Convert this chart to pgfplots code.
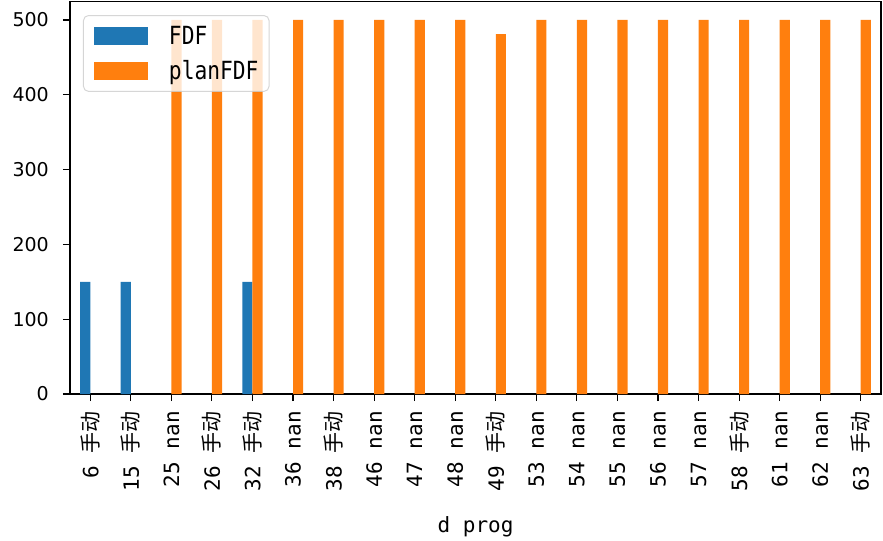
\documentclass[border=0pt]{standalone}
\usepackage{pgfplots}
\pgfplotsset{compat=1.18}
\usepackage{fontspec}
\setmainfont{DejaVu Sans}
\newfontfamily\cjkf{Noto Sans CJK SC}
\newcommand{\cjk}[1]{{\cjkf\fontsize{21bp}{25bp}\selectfont #1}}
\newfontfamily\mono{DejaVu Sans Mono}
\newfontfamily\legfont[FakeStretch=0.85]{DejaVu Sans Mono}
\definecolor{tabblue}{HTML}{1F77B4}
\definecolor{taborange}{HTML}{FF7F0E}
\pgfplotsset{
  mylegimg/.style={legend image code/.code={\fill[##1, fill opacity=1, draw=none, sharp corners] (0bp,-9bp) rectangle (54bp,9bp);}},
}
\begin{document}
\begin{tikzpicture}
\begin{axis}[
  at={(0,0)}, anchor=south west,
  scale only axis,
  width=811bp, height=392.7bp,
  xmin=-0.5, xmax=19.5,
  ymin=0, ymax=525,
  axis line style={line width=1.3bp},
  tick style={line width=1.1bp, black},
  major tick length=7bp,
  tick align=outside,
  xtick pos=bottom, ytick pos=left,
  xtick={0,...,19},
  xticklabels={{6 \cjk{手动}},{15 \cjk{手动}},{25 nan},{26 \cjk{手动}},{32 \cjk{手动}},{36 nan},{38 \cjk{手动}},{46 nan},{47 nan},{48 nan},{49 \cjk{手动}},{53 nan},{54 nan},{55 nan},{56 nan},{57 nan},{58 \cjk{手动}},{61 nan},{62 nan},{63 \cjk{手动}}},
  xticklabel style={rotate=90, anchor=east, font=\mono\fontsize{21bp}{25bp}\selectfont, inner sep=0pt},
  xticklabel shift=10bp,
  ytick={0,100,200,300,400,500},
  yticklabel style={font=\fontsize{19bp}{23bp}\selectfont, inner sep=0pt},
  yticklabel shift=14bp,
  /pgf/number format/assume math mode=true,
  xlabel={d prog},
  xlabel style={font=\mono\fontsize{21bp}{25bp}\selectfont, at={(axis description cs:0.5,0)}, anchor=base, yshift=-138bp},
  legend style={at={(axis description cs:0.016,0.965)}, anchor=north west,
    fill=white, fill opacity=0.8, text opacity=1, draw=black!20, draw opacity=0.8,
    line width=1bp, rounded corners=5bp,
    font=\legfont\fontsize{25bp}{29bp}\selectfont,
    nodes={inner sep=0pt},
    inner xsep=10.5bp, inner ysep=10.5bp, row sep=14.5bp,
    /tikz/every odd column/.append style={column sep=21bp}},
  legend cell align=left,
  ybar, bar width=0.25,
  clip=false,
]
\addplot[fill=tabblue, draw=none, bar shift=-0.125, mylegimg] coordinates {(0,150) (1,150) (4,150)};
\addlegendentry{FDF}
\addplot[fill=taborange, draw=none, bar shift=0.125, mylegimg] coordinates {(2,500) (3,500) (4,500) (5,500) (6,500) (7,500) (8,500) (9,500) (10,481) (11,500) (12,500) (13,500) (14,500) (15,500) (16,500) (17,500) (18,500) (19,500)};
\addlegendentry{planFDF}
\end{axis}
\pgfresetboundingbox
\useasboundingbox (-70bp,-147bp) rectangle (813bp,394bp);
\end{tikzpicture}
\end{document}
